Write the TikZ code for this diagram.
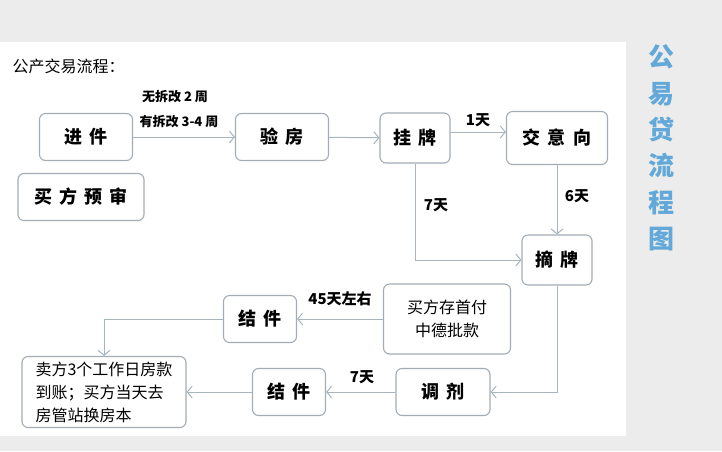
\documentclass[tikz,border=0pt]{standalone}
\usepackage{fontspec}
\setmainfont{Noto Sans CJK SC}
\usetikzlibrary{arrows.meta}
\definecolor{bggray}{HTML}{ECECEC}
\definecolor{boxline}{HTML}{A3ACB5}
\definecolor{arrline}{HTML}{A9B5BD}
\definecolor{sideblue}{HTML}{62A8D8}
\tikzset{
  box/.style={draw=boxline, line width=1.1pt, rounded corners=6pt, fill=white,
    minimum height=47pt, inner sep=2pt, font=\fontsize{18}{20}\selectfont\bfseries},
  twoline/.style={font=\fontsize{16}{23}\selectfont},
  flow/.style={draw=arrline, line width=1pt, -{Straight Barb[length=5pt,width=12pt]}},
  lbl/.style={font=\fontsize{15}{17}\selectfont\bfseries, inner sep=1pt},
}

\begin{document}
\begin{tikzpicture}[x=1pt,y=-1pt]
   \fill[bggray] (0,0) rectangle (722,451);
   \fill[white] (0,42) rectangle (626,436);
   \node[anchor=west, font=\fontsize{16}{18}\selectfont] (title) at (9,66) {公产交易流程：};

   % boxes
   \node[box, minimum width=93pt] (jinjian) at (86,137) {进\,\ 件};
   \node[box, minimum width=93pt] (yanfang) at (282,137) {验\,\ 房};
   \node[box, minimum width=70pt, minimum height=50pt] (guapai) at (415,138) {挂\,\ 牌};
   \node[box, minimum width=101pt, minimum height=53pt] (jiaoyixiang) at (557,138) {交\,\ 意\,\ 向};
   \node[box, minimum width=126pt] (yushen) at (81,197) {买\,\ 方\,\ 预\,\ 审};
   \node[box, minimum width=70pt, minimum height=50pt] (zhaipai) at (557,260) {摘\,\ 牌};
   \node[box, twoline, minimum width=127pt, minimum height=70pt, align=center] (shoufu) at (447,319) {买方存首付\\中德批款};
   \node[box, minimum width=73pt] (jiejianA) at (260,319) {结\,\ 件};
   \node[box, twoline, minimum width=164pt, minimum height=71pt, align=left] (daozhang) at (104,392) {卖方3个工作日房款\\到账；买方当天去\\房管站换房本};
   \node[box, minimum width=73pt] (jiejianB) at (289,392) {结\,\ 件};
   \node[box, minimum width=94pt] (tiaoji) at (443,392) {调\,\ 剂};

   % connectors
   \draw[flow] (jinjian) -- (yanfang);
   \draw[flow] (yanfang) -- (guapai);
   \draw[flow] ([yshift=6pt]guapai.east) -- ([yshift=6pt]jiaoyixiang.west);
   \draw[flow] (jiaoyixiang) -- (zhaipai);
   \draw[flow] (guapai) |- (zhaipai);
   \draw[flow] (zhaipai) |- (tiaoji);
   \draw[flow] (tiaoji) -- (jiejianB);
   \draw[flow] (jiejianB) -- (daozhang);
   \draw[flow] (shoufu) -- (jiejianA);
   \draw[flow] (jiejianA.west) -| (daozhang.north);

   % labels
   \node[lbl, font=\fontsize{13}{15}\selectfont\bfseries] (wuchaigai) at (175,97) {无拆改 2 周};
   \node[lbl, font=\fontsize{13}{15}\selectfont\bfseries] (youchaigai) at (179,122) {有拆改 3-4 周};
   \node[lbl] (yitian) at (478,120) {1天};
   \node[lbl] (liutian) at (577,196) {6天};
   \node[lbl] (qitianA) at (436,205) {7天};
   \node[lbl] (qitianB) at (362,377) {7天};
   \node[lbl] (sishiwu) at (340,299) {45天左右};

   \node[font=\fontsize{26}{36.4}\selectfont\bfseries, text=sideblue, align=center] (sidetitle) at (661,148) {公\\易\\贷\\流\\程\\图};
\end{tikzpicture}
\end{document}
